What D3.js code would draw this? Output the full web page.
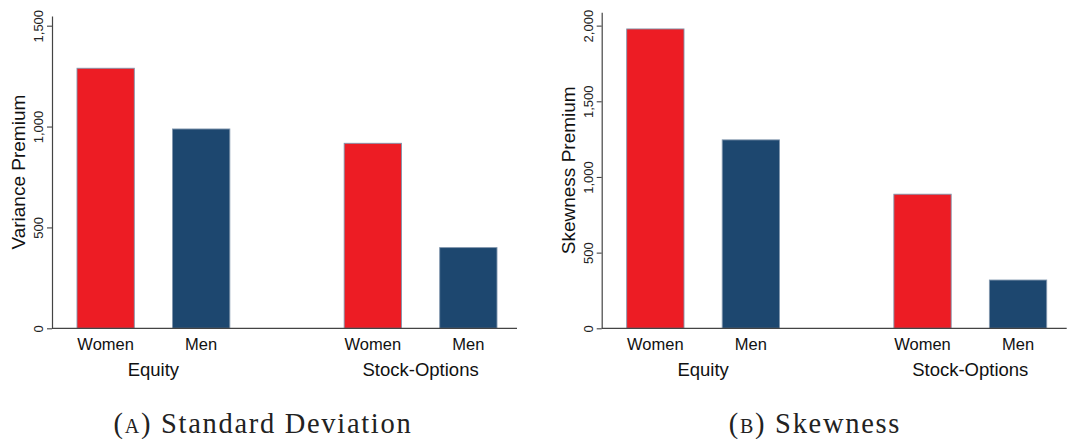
<!DOCTYPE html>
<html>
<head>
<meta charset="utf-8">
<script src="https://cdn.jsdelivr.net/npm/d3@7/dist/d3.min.js"></script>
<style>
  html, body { margin: 0; padding: 0; background: #fff; }
  svg { display: block; }
  .tick text { font-family: "Liberation Sans", Arial, sans-serif; font-size: 13px; fill: #222; }
</style>
</head>
<body>
<svg id="chart" width="1069" height="439"></svg>
<script>
// Groups and bars within each group
const groups = ["Equity", "Stock-Options"];
const genders = ["Women", "Men"];

// Panel A: variance premium
const varianceWomen = [1289, 917];
const varianceMen = [988, 400];
const varianceTicks = [0, 500, 1000, 1500];

// Panel B: skewness premium
const skewWomen = [1978, 886];
const skewMen = [1245, 319];
const skewTicks = [0, 500, 1000, 1500, 2000];

const genderColor = { Women: "#ED1C24", Men: "#1D476F" };

const svg = d3.select("#chart");
const sans = '"Liberation Sans", Arial, sans-serif';
const serif = '"Liberation Serif", "Times New Roman", serif';

function panel(opts) {
  const { axisX, axisTop, yMax, ticks, women, men, yTitle, captionTag, caption, captionX, titleX } = opts;
  const baseY = 328.3;
  const axisLen = 465;

  const y = d3.scaleLinear().domain([0, yMax]).range([baseY, axisTop]);
  const xGroup = d3.scaleBand().domain(groups)
    .range([axisX + 25, axisX + 445]).paddingInner(0.428).paddingOuter(0);
  const xBar = d3.scaleBand().domain(genders)
    .range([0, xGroup.bandwidth()]).paddingInner(0.4).paddingOuter(0);

  const g = svg.append("g");

  const rows = [];
  groups.forEach((grp, i) => {
    rows.push({ group: grp, gender: "Women", value: women[i] });
    rows.push({ group: grp, gender: "Men", value: men[i] });
  });

  // bars
  g.selectAll("rect.bar").data(rows).join("rect")
    .attr("class", "bar")
    .attr("x", d => xGroup(d.group) + xBar(d.gender))
    .attr("width", xBar.bandwidth())
    .attr("y", d => y(d.value))
    .attr("height", d => baseY - y(d.value))
    .attr("fill", d => genderColor[d.gender])
    .attr("stroke", "#8196ad")
    .attr("stroke-width", 0.9);

  // y axis
  const yAxis = d3.axisLeft(y).tickValues(ticks).tickFormat(d3.format(","))
    .tickSize(5).tickSizeOuter(0);
  const ga = g.append("g").attr("transform", `translate(${axisX},0)`).call(yAxis);
  ga.select(".domain").attr("stroke", "#444").attr("stroke-width", 1.2);
  ga.selectAll(".tick line").attr("stroke", "#444").attr("stroke-width", 1.1);
  ga.selectAll(".tick text")
    .attr("transform", "rotate(-90)")
    .attr("x", 0).attr("y", -9).attr("dy", 0)
    .attr("text-anchor", "middle");

  // x axis baseline
  g.append("line")
    .attr("x1", axisX).attr("x2", axisX + axisLen)
    .attr("y1", baseY).attr("y2", baseY)
    .attr("stroke", "#444").attr("stroke-width", 1.2);

  // bar labels
  g.selectAll("text.cat").data(rows).join("text")
    .attr("class", "cat")
    .attr("x", d => xGroup(d.group) + xBar(d.gender) + xBar.bandwidth() / 2)
    .attr("y", 350)
    .attr("text-anchor", "middle")
    .attr("font-family", sans).attr("font-size", 16.5).attr("fill", "#111")
    .text(d => d.gender);

  // group labels
  g.selectAll("text.grp").data(groups).join("text")
    .attr("class", "grp")
    .attr("x", d => xGroup(d) + xGroup.bandwidth() / 2)
    .attr("y", 376)
    .attr("text-anchor", "middle")
    .attr("font-family", sans).attr("font-size", 18.5).attr("fill", "#111")
    .text(d => d);

  // y title
  g.append("text")
    .attr("transform", `translate(${titleX},${(baseY + axisTop) / 2}) rotate(-90)`)
    .attr("text-anchor", "middle")
    .attr("font-family", sans).attr("font-size", 19).attr("fill", "#111")
    .text(yTitle);

  // caption: small-caps tag followed by the title
  const cap = g.append("text")
    .attr("x", captionX).attr("y", 433)
    .attr("text-anchor", "middle")
    .attr("font-family", serif).attr("font-size", 28.5).attr("fill", "#222")
    .attr("letter-spacing", 1.7);
  cap.append("tspan").style("font-variant", "small-caps").text(captionTag);
  cap.append("tspan").text(" " + caption);
}

panel({
  axisX: 52, axisTop: 16, yMax: 1548, ticks: varianceTicks,
  women: varianceWomen, men: varianceMen,
  yTitle: "Variance Premium", titleX: 25,
  captionTag: "(a)", caption: "Standard Deviation", captionX: 263
});

panel({
  axisX: 601.7, axisTop: 12.3, yMax: 2088, ticks: skewTicks,
  women: skewWomen, men: skewMen,
  yTitle: "Skewness Premium", titleX: 575,
  captionTag: "(b)", caption: "Skewness", captionX: 815
});
</script>
</body>
</html>
